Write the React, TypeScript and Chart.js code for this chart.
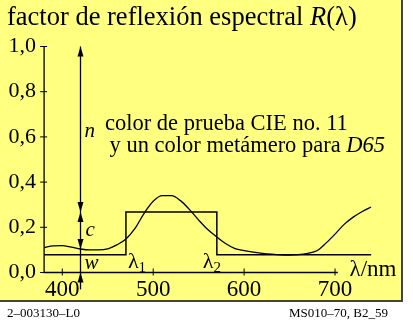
import React, { useEffect, useRef } from "react";
import { Chart, registerables } from "chart.js";

Chart.register(...registerables);

// ---- data ----
const wavelengths = [
  380, 390, 400, 410, 420, 430, 440, 450, 460, 470, 480, 490, 500, 510, 520, 530, 540, 550, 560,
  570, 580, 590, 600, 610, 620, 630, 640, 650, 660, 670, 680, 690, 700, 710, 720, 730, 740,
];
const reflectance = [
  0.11, 0.118, 0.119, 0.112, 0.104, 0.1, 0.1, 0.105, 0.122, 0.148, 0.195, 0.262, 0.315, 0.34,
  0.34, 0.318, 0.278, 0.232, 0.19, 0.157, 0.127, 0.106, 0.097, 0.09, 0.085, 0.081, 0.078, 0.077,
  0.079, 0.085, 0.096, 0.13, 0.17, 0.213, 0.245, 0.27, 0.29,
];
const metamerWavelengths = [380, 470, 470, 570, 570, 740];
const metamerValues = [0.078, 0.078, 0.268, 0.268, 0.078, 0.078];
const xTicks = [400, 500, 600, 700];
const yTicks = [0, 0.2, 0.4, 0.6, 0.8, 1.0];
const xAxisEnd = 703;
const lambda1 = 470;
const lambda2 = 570;
const markerWavelength = 420;
const markerTop = 1.0;
const markerRectLevel = 0.268;
const markerCurveLevel = 0.104;
const markerZero = 0;
const markerBottom = -0.075;

const titleText = "factor de reflexión espectral ";
const noteLine1 = "color de prueba CIE no. 11";
const noteLine2 = "y un color metámero para ";
const footLeft = "2–003130–L0";
const footRight = "MS010–70, B2_59";

const SERIF = "'Liberation Serif', 'Times New Roman', serif";
const YELLOW = "rgb(255,255,128)";

type Seg = { t: string; i?: boolean; s?: number; dy?: number };

function rich(ctx: CanvasRenderingContext2D, x: number, y: number, segs: Seg[], size: number) {
  let cx = x;
  for (const sg of segs) {
    ctx.font = `${sg.i ? "italic " : ""}${sg.s ?? size}px ${SERIF}`;
    ctx.fillText(sg.t, cx, y + (sg.dy ?? 0));
    cx += ctx.measureText(sg.t).width;
  }
}

function arrowHead(ctx: CanvasRenderingContext2D, x: number, tipY: number, dir: number) {
  const len = 10;
  const hw = 3;
  ctx.beginPath();
  ctx.moveTo(x, tipY);
  ctx.lineTo(x - hw, tipY - dir * len);
  ctx.lineTo(x + hw, tipY - dir * len);
  ctx.closePath();
  ctx.fill();
}

const decorPlugin = {
  id: "decor",
  beforeDraw(chart: any) {
    const ctx = chart.ctx as CanvasRenderingContext2D;
    ctx.save();
    ctx.fillStyle = "#ffffff";
    ctx.fillRect(0, 0, chart.width, chart.height);
    ctx.fillStyle = YELLOW;
    ctx.fillRect(0, 0, 402, 300);
    ctx.strokeStyle = "#444";
    ctx.lineWidth = 2;
    ctx.beginPath();
    ctx.moveTo(402, 0);
    ctx.lineTo(402, 301);
    ctx.lineTo(0, 301);
    ctx.stroke();
    ctx.restore();
  },
  afterDatasetsDraw(chart: any) {
    const ctx = chart.ctx as CanvasRenderingContext2D;
    const xs = chart.scales.x;
    const ys = chart.scales.y;
    const px = (v: number) => xs.getPixelForValue(v);
    const py = (v: number) => ys.getPixelForValue(v);
    ctx.save();
    ctx.strokeStyle = "#000";
    ctx.fillStyle = "#000";
    ctx.lineWidth = 1.3;
    const x0 = px(380);
    ctx.beginPath();
    ctx.moveTo(x0, py(1.0));
    ctx.lineTo(x0, py(0));
    ctx.lineTo(px(xAxisEnd), py(0));
    ctx.stroke();
    ctx.lineWidth = 1;
    for (const t of yTicks) {
      ctx.beginPath();
      ctx.moveTo(x0 - 4, py(t));
      ctx.lineTo(x0 + 3, py(t));
      ctx.stroke();
    }
    for (const t of xTicks) {
      ctx.beginPath();
      ctx.moveTo(px(t), py(0) - 4);
      ctx.lineTo(px(t), py(0) + 3);
      ctx.stroke();
    }
    const mx = Math.round(px(markerWavelength)) + 0.5;
    ctx.lineWidth = 1.3;
    ctx.beginPath();
    ctx.moveTo(mx, py(markerTop));
    ctx.lineTo(mx, py(markerBottom));
    ctx.stroke();
    arrowHead(ctx, mx, py(markerTop), -1);
    arrowHead(ctx, mx, py(markerRectLevel), 1);
    arrowHead(ctx, mx, py(markerRectLevel), -1);
    arrowHead(ctx, mx, py(markerCurveLevel), 1);
    arrowHead(ctx, mx, py(markerZero), -1);

    ctx.textBaseline = "alphabetic";
    ctx.textAlign = "left";
    rich(ctx, 7, 25, [{ t: titleText }, { t: "R", i: true }, { t: "(λ)" }], 26.5);
    rich(ctx, mx + 4, py(0.6), [{ t: "n", i: true }], 21);
    rich(ctx, mx + 5, py(0.16), [{ t: "c", i: true }], 21);
    rich(ctx, mx + 4, py(0.015), [{ t: "w", i: true }], 21);
    rich(ctx, px(lambda1) + 2, py(0.02), [{ t: "λ" }, { t: "1", s: 15, dy: 4 }], 22);
    rich(ctx, px(lambda2) - 14, py(0.02), [{ t: "λ" }, { t: "2", s: 15, dy: 4 }], 22);
    rich(ctx, px(716), py(-0.016), [{ t: "λ/nm" }], 23);
    rich(ctx, px(447), py(0.63), [{ t: noteLine1 }], 22.5);
    rich(ctx, px(452), py(0.533), [{ t: noteLine2 }, { t: "D65", i: true }], 22.5);
    ctx.font = `13px ${SERIF}`;
    ctx.fillText(footLeft, 7, 317);
    ctx.textAlign = "right";
    ctx.fillText(footRight, 388, 317);
    ctx.restore();
  },
};

export default function App() {
  const ref = useRef<HTMLCanvasElement | null>(null);
  useEffect(() => {
    if (!ref.current) return;
    const chart = new Chart(ref.current, {
      type: "line",
      data: {
        datasets: [
          {
            data: wavelengths.map((w, i) => ({ x: w, y: reflectance[i] })),
            borderColor: "#000",
            borderWidth: 1.3,
            pointRadius: 0,
            cubicInterpolationMode: "monotone",
            fill: false,
          },
          {
            data: metamerWavelengths.map((w, i) => ({ x: w, y: metamerValues[i] })),
            borderColor: "#000",
            borderWidth: 1.5,
            pointRadius: 0,
            tension: 0,
            fill: false,
          },
        ],
      },
      plugins: [decorPlugin],
      options: {
        responsive: false,
        animation: false,
        events: [],
        layout: { padding: { left: 0, top: 46.5, right: 41.6, bottom: 21.5 } },
        plugins: { legend: { display: false }, tooltip: { enabled: false }, title: { display: false } },
        scales: {
          x: {
            type: "linear",
            min: 380,
            max: 740,
            afterFit: (s: any) => {
              s.height = 30;
            },
            afterBuildTicks: (s: any) => {
              s.ticks = xTicks.map((v) => ({ value: v }));
            },
            grid: { display: false, drawTicks: false },
            border: { display: false },
            ticks: {
              color: "#000",
              font: { family: SERIF, size: 23 },
              padding: 4,
              maxRotation: 0,
              autoSkip: false,
            },
          },
          y: {
            type: "linear",
            min: 0,
            max: 1,
            afterFit: (s: any) => {
              s.width = 44.1;
            },
            afterBuildTicks: (s: any) => {
              s.ticks = yTicks.map((v) => ({ value: v }));
            },
            grid: { display: false, drawTicks: false },
            border: { display: false },
            ticks: {
              color: "#000",
              font: { family: SERIF, size: 22 },
              padding: 8,
              callback: (v: any) => Number(v).toFixed(1).replace(".", ","),
            },
          },
        },
      } as any,
    });
    return () => chart.destroy();
  }, []);
  return (
    <div style={{ position: "absolute", left: 0, top: 0, width: 413, height: 324 }}>
      <canvas ref={ref} width={413} height={324} style={{ display: "block" }} />
    </div>
  );
}
